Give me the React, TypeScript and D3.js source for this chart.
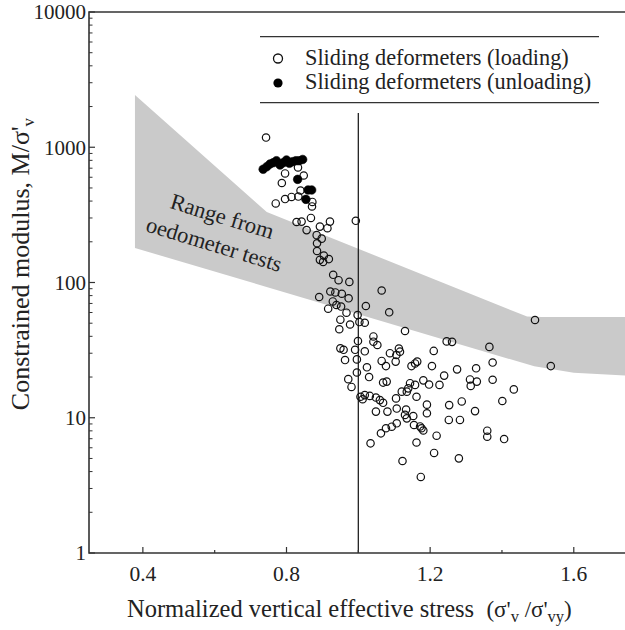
import React from "react";
import * as d3 from "d3";

// ---- data ----
const loadX = [0.743,0.796,0.848,0.832,0.787,0.839,0.833,0.796,0.814,0.770,0.872,0.871,0.868,0.828,0.842,0.856,0.921,0.893,0.914,0.884,0.898,0.885,0.885,0.904,0.893,0.918,0.902,0.930,0.945,0.975,1.065,0.993,0.922,0.936,0.954,0.973,0.891,0.929,0.939,0.952,0.916,1.021,0.967,1.086,0.998,0.950,1.003,1.018,0.977,0.947,1.130,0.999,1.042,1.042,1.053,0.950,0.959,0.991,1.018,1.113,1.116,1.106,1.088,1.246,1.261,1.210,1.365,1.492,1.536,0.963,0.996,1.065,1.077,1.104,1.148,1.158,1.164,1.024,1.205,1.275,1.328,1.374,0.996,1.030,0.972,0.981,1.069,1.079,1.144,1.139,1.135,1.158,1.181,1.197,1.226,1.239,1.311,1.313,1.330,1.374,1.433,1.121,1.006,1.012,1.018,1.032,1.049,1.060,1.069,1.162,1.105,1.107,1.049,1.081,1.133,1.130,1.135,1.153,1.191,1.191,1.253,1.288,1.325,1.401,1.107,1.093,1.077,1.155,1.172,1.176,1.181,1.063,1.252,1.283,1.218,1.162,1.034,1.211,1.123,1.280,1.174,1.359,1.359,1.406];
const loadM = [1180,640,618,709,544,479,432,414,429,384,394,365,300,280,282,244,282,259,252,224,211,195,171,158,147,149,142,114,104,101,87.3,286,85.8,84.4,82.6,76.4,78.1,72.4,68.2,66.4,64.0,67.0,59.8,60.2,57.5,53.1,51.0,50.4,48.9,45.1,43.8,36.9,39.9,36.5,34.5,32.6,31.8,31.8,31.0,32.5,30.8,29.1,30.0,36.7,36.4,31.2,33.4,52.8,24.1,26.7,27.0,26.3,24.1,26.0,24.1,25.2,26.0,23.6,24.1,22.8,23.2,25.6,21.6,20.0,19.3,16.9,18.2,18.5,18.0,16.5,15.6,17.5,18.9,17.6,17.5,20.5,19.2,17.2,18.5,19.1,16.2,15.6,14.3,13.7,14.7,14.5,14.1,13.5,12.9,14.3,13.9,11.7,11.1,11.1,11.5,10.5,9.9,10.3,12.5,10.8,12.4,13.2,11.2,13.3,9.10,8.59,8.36,8.84,8.62,8.36,8.05,7.67,9.63,9.63,7.37,6.56,6.47,5.49,4.79,5.01,3.65,8.02,7.24,6.96];
const unloadX = [0.735,0.745,0.754,0.763,0.772,0.782,0.791,0.800,0.808,0.817,0.826,0.835,0.845,0.831,0.860,0.870,0.854];
const unloadM = [687,718,752,769,795,739,769,805,761,782,795,795,812,579,483,483,412];

const bandUpperX = [0.378,0.745,1.47,1.51,1.75];
const bandUpperM = [2430,332,56,55.5,55.5];
const bandLowerX = [0.378,1.49,1.6,1.75];
const bandLowerM = [180,24,21.5,20.5];

const xTicksMajor = [0.4,0.8,1.2,1.6];
const xTicksMinor = [0.6,1.0,1.4];
const yTickLabels = [1,10,100,1000,10000];
const yieldLineX = 1.0;
const yieldLineTopM = 1790;

const legendLabels = ["Sliding deformeters (loading)", "Sliding deformeters (unloading)"];

export default function App() {
  const W = 625, H = 630;
  const x = d3.scaleLinear().domain([0.25, 1.75]).range([89, 627.65]);
  const y = d3.scaleLog().domain([1, 10000]).range([553, 12]);
  const ff = { fontFamily: '"Liberation Serif"' };
  const ink = "#222";

  const upper = bandUpperX.map((v, i) => [x(v), y(bandUpperM[i])] as [number, number]);
  const lower = bandLowerX.map((v, i) => [x(v), y(bandLowerM[i])] as [number, number]).reverse();
  const bandPath = d3.line()([...upper, ...lower]) + "Z";

  const minorY: number[] = [];
  for (let d = 1; d < 10000; d *= 10) for (let k = 2; k <= 9; k++) minorY.push(d * k);

  const x0 = x.range()[0], x1 = x.range()[1];
  const y0 = y.range()[0], y1 = y.range()[1];

  return (
    <svg width={W} height={H} style={{ position: "absolute", left: 0, top: 0, background: "#fff" }}>
      <defs>
        <clipPath id="plot"><rect x={x0} y={y1} width={x1 - x0} height={y0 - y1} /></clipPath>
      </defs>
      <g clipPath="url(#plot)">
        <path d={bandPath} fill="#cacaca" stroke="none" />
        <line x1={x(yieldLineX)} x2={x(yieldLineX)} y1={y(yieldLineTopM)} y2={y0} stroke="#222" strokeWidth={1.3} />
        {loadX.map((v, i) => (
          <circle key={"l" + i} cx={x(v)} cy={y(loadM[i])} r={3.7} fill="none" stroke="#111" strokeWidth={1.2} />
        ))}
        {unloadX.map((v, i) => (
          <circle key={"u" + i} cx={x(v)} cy={y(unloadM[i])} r={4.3} fill="#000" stroke="#000" strokeWidth={0.6} />
        ))}
      </g>

      <text style={ff} transform={`translate(222,217) rotate(17)`} textAnchor="middle" dy="0.3em" fontSize={22.5} fill={ink}>Range from</text>
      <text style={ff} transform={`translate(214,245) rotate(17)`} textAnchor="middle" dy="0.3em" fontSize={22.5} fill={ink}>oedometer tests</text>

      {/* frame */}
      <path d={`M${x1},${y1}H${x0}V${y0}H${x1}`} fill="none" stroke="#333" strokeWidth={1.6} />
      {xTicksMajor.map((t) => (
        <g key={"xt" + t}>
          <line x1={x(t)} x2={x(t)} y1={y0} y2={y0 - 6} stroke="#333" strokeWidth={1.2} />
          <text style={ff} x={x(t)} y={581} textAnchor="middle" fontSize={21.5} fill={ink}>{t.toFixed(1)}</text>
        </g>
      ))}
      {xTicksMinor.map((t) => (
        <line key={"xm" + t} x1={x(t)} x2={x(t)} y1={y0} y2={y0 - 3} stroke="#333" strokeWidth={1.2} />
      ))}
      {yTickLabels.map((t) => (
        <g key={"yt" + t}>
          <line x1={x0} x2={x0 + 6} y1={y(t)} y2={y(t)} stroke="#333" strokeWidth={1.2} />
          <text style={ff} x={86} y={y(t)} dy="0.35em" textAnchor="end" fontSize={21} fill={ink}>{t}</text>
        </g>
      ))}
      {minorY.map((t) => (
        <line key={"ym" + t} x1={x0} x2={x0 + 3.5} y1={y(t)} y2={y(t)} stroke="#333" strokeWidth={1} />
      ))}

      {/* axis titles */}
      <text style={ff} x={127} y={617} fontSize={24.5} fill={ink}>
        Normalized vertical effective stress{"\u00a0\u00a0"}
        <tspan fontSize={23}>({"\u03c3'"}<tspan fontSize={16.5} dy={5}>v</tspan><tspan dy={-5}>{"\u00a0/\u03c3'"}</tspan><tspan fontSize={16.5} dy={5}>vy</tspan><tspan dy={-5}>)</tspan></tspan>
      </text>
      <text style={ff} transform="translate(29,264) rotate(-90)" textAnchor="middle" fontSize={26} fill={ink}>
        Constrained modulus, M/{"\u03c3'"}<tspan fontSize={17} dy={5}>v</tspan>
      </text>

      {/* legend */}
      <line x1={260} x2={599} y1={36.7} y2={36.7} stroke="#333" strokeWidth={1.3} />
      <line x1={260} x2={599} y1={102.7} y2={102.7} stroke="#333" strokeWidth={1.3} />
      <circle cx={278} cy={58.5} r={4.5} fill="none" stroke="#111" strokeWidth={1.3} />
      <circle cx={278} cy={83} r={4.6} fill="#000" />
      <text style={ff} x={305} y={64.5} fontSize={22.3} fill={ink}>{legendLabels[0]}</text>
      <text style={ff} x={305} y={89} fontSize={22.3} fill={ink}>{legendLabels[1]}</text>
    </svg>
  );
}
